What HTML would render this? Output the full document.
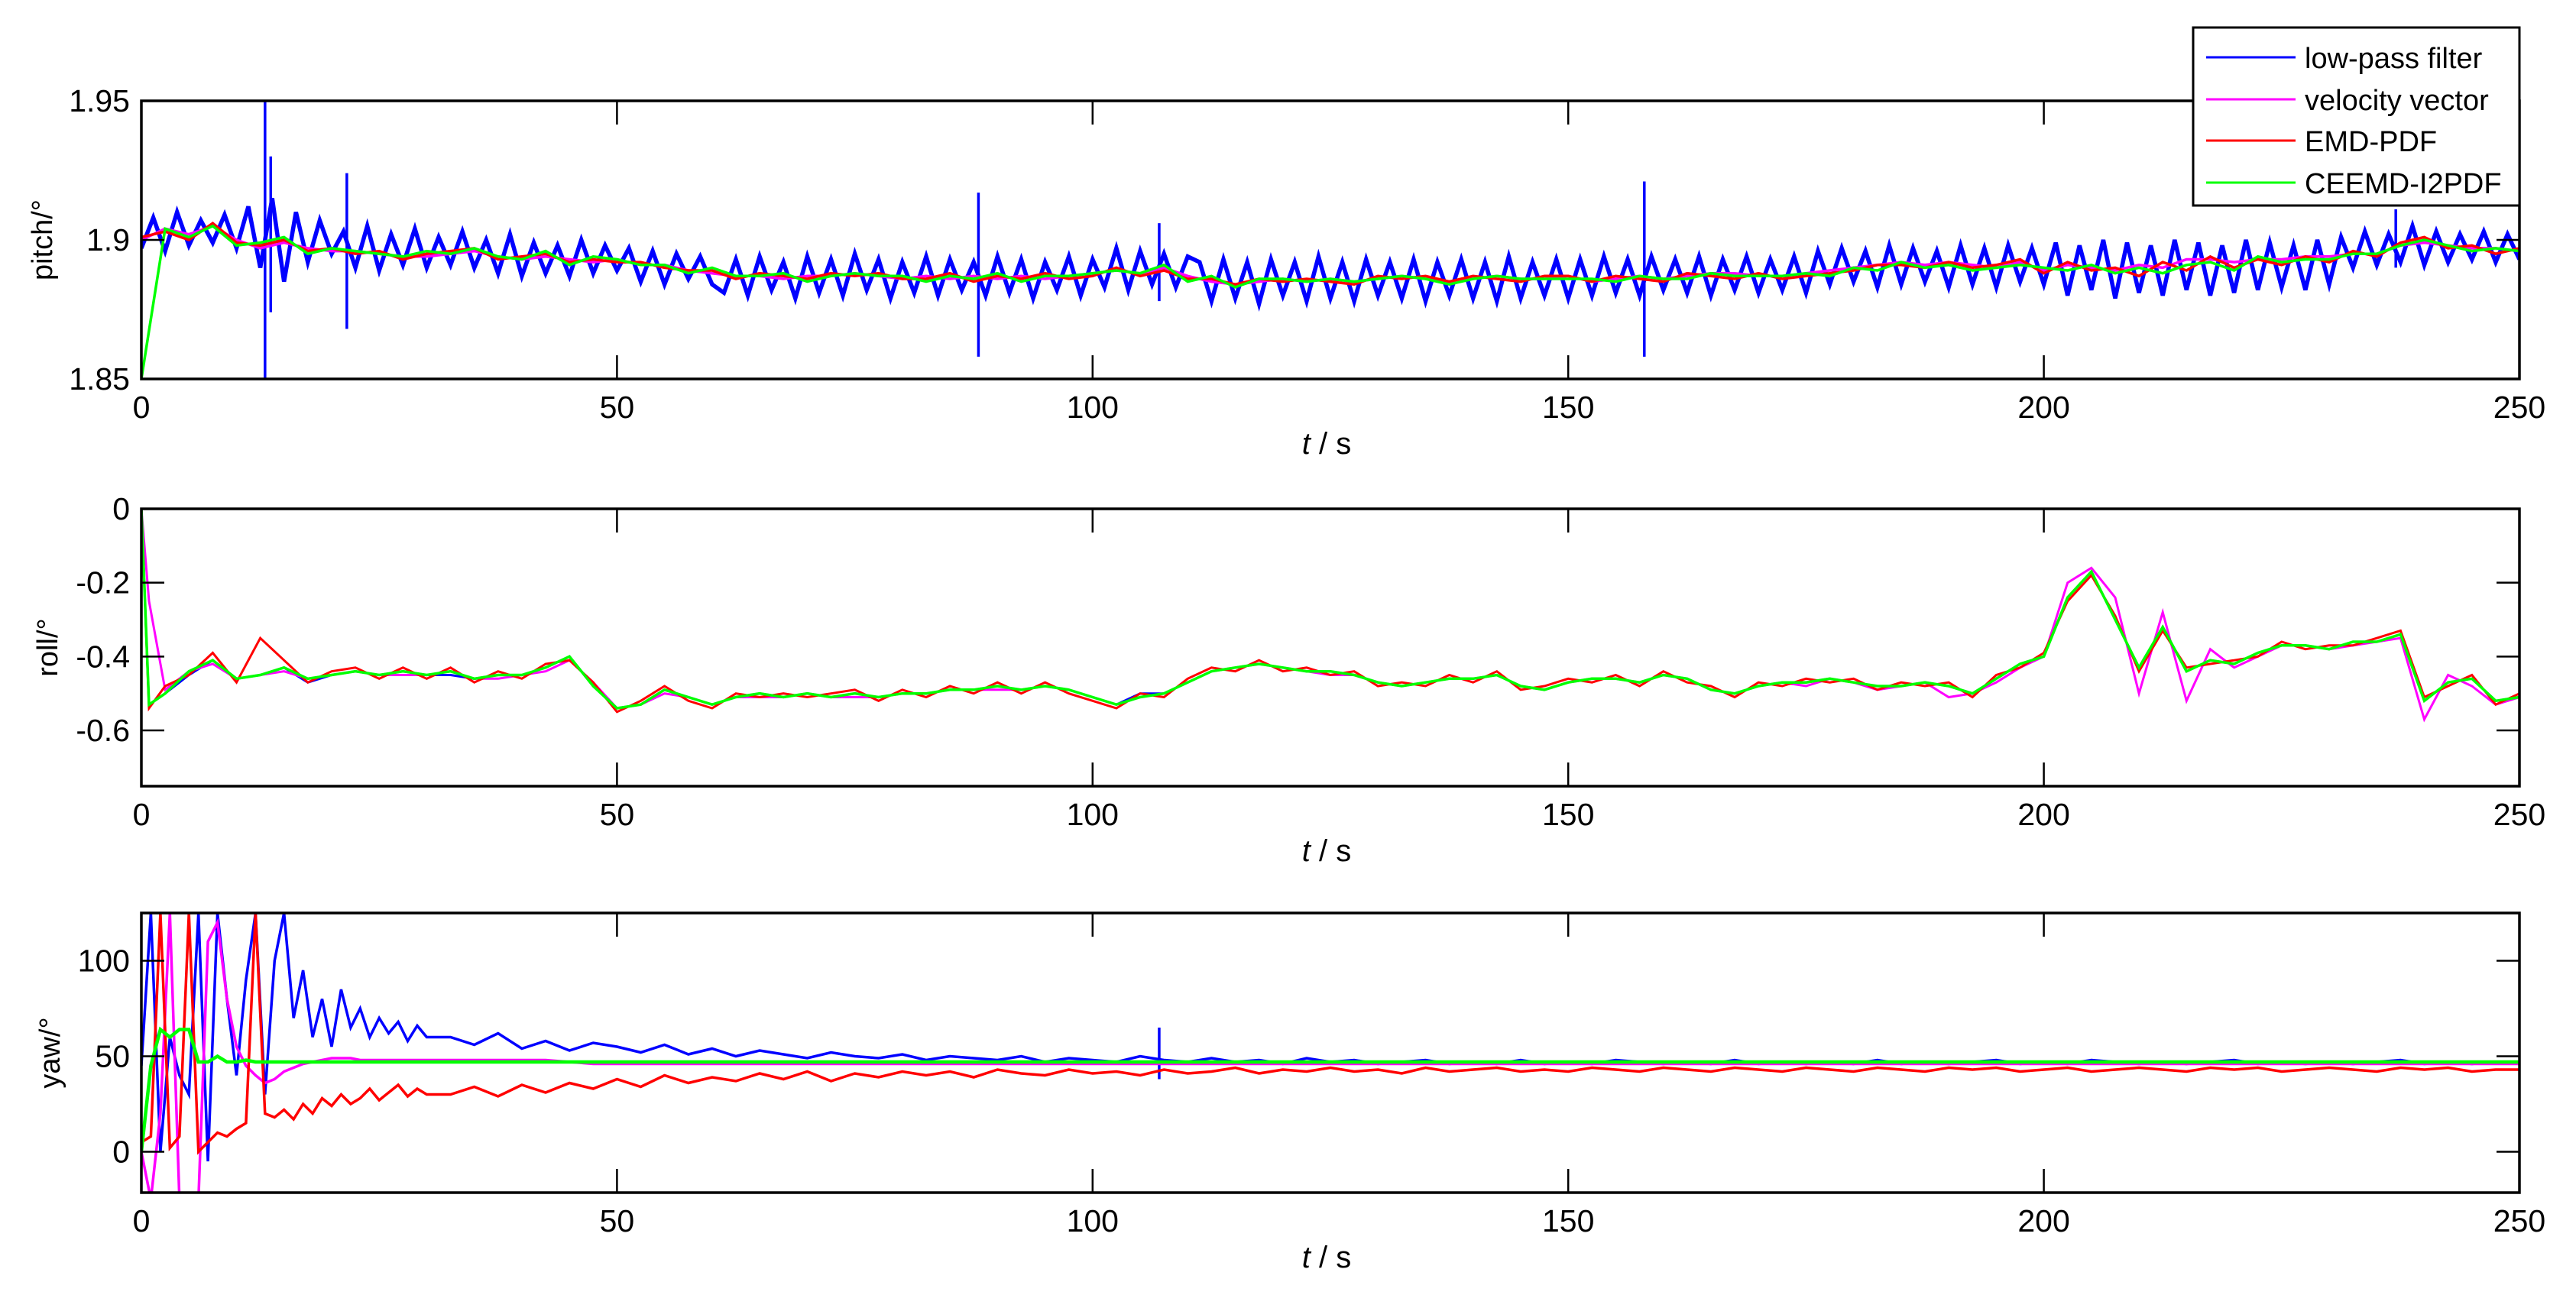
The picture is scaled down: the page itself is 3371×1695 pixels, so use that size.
<!DOCTYPE html>
<html><head><meta charset="utf-8">
<style>
html,body{margin:0;padding:0;background:#fff;}
svg{display:block;font-family:"Liberation Sans",Arial,sans-serif;}
</style></head>
<body>
<svg id="fig" width="3371" height="1695" viewBox="0 0 3371 1695" xmlns="http://www.w3.org/2000/svg">
<rect x="0" y="0" width="3371" height="1695" fill="#fff"/>
</svg>
<script>
// ---------------- data ----------------
const xTicks = [0, 50, 100, 150, 200, 250];
const pitchTicks = [1.85, 1.9, 1.95];
const pitchTickLabels = ["1.85", "1.9", "1.95"];
const rollTicks = [-0.6, -0.4, -0.2, 0];
const rollTickLabels = ["-0.6", "-0.4", "-0.2", "0"];
const yawTicks = [0, 50, 100];
const yawTickLabels = ["0", "50", "100"];
const seriesNames = ["low-pass filter", "velocity vector", "EMD-PDF", "CEEMD-I2PDF"];

// pitch (evenly spaced over 0..250 s)
const pitchBlue = [1.897,1.908,1.896,1.910,1.898,1.907,1.899,1.909,1.897,
1.912,1.890,1.915,1.885,1.910,1.892,1.907,1.895,
1.903,1.890,1.905,1.889,1.902,1.891,1.904,1.890,1.901,1.891,1.903,1.890,
1.900,1.888,1.902,1.887,1.899,1.888,1.898,1.887,1.900,1.888,1.898,1.889,
1.897,1.885,1.896,1.884,1.895,1.886,1.894,1.884,
1.881,1.893,1.880,1.894,1.882,1.892,1.879,1.894,1.881,1.893,1.880,1.895,1.882,1.893,1.879,1.892,1.881,1.894,1.880,1.893,1.882,1.892,1.880,1.894,1.881,1.893,1.879,1.892,1.882,1.894,1.880,1.893,
1.883,1.897,1.882,1.896,1.884,1.895,1.883,1.894,
1.892,1.878,1.893,1.879,1.892,1.877,1.893,1.880,1.892,1.878,1.894,1.879,1.892,1.878,1.893,1.880,1.892,1.879,1.893,1.878,1.892,1.880,1.893,1.879,1.892,1.878,1.894,1.879,1.892,1.880,1.893,1.879,
1.893,1.880,1.894,1.881,1.893,1.880,1.894,1.882,1.893,1.881,1.894,1.880,1.893,1.882,1.894,1.881,1.893,1.882,1.894,1.881,
1.896,1.884,1.897,1.885,1.896,1.883,1.898,1.884,1.897,1.885,1.896,1.883,1.898,1.884,1.897,1.883,1.898,1.885,1.897,1.884,
1.899,1.880,1.898,1.882,1.900,1.879,1.899,1.881,1.898,1.880,1.900,1.882,1.899,1.880,1.898,1.881,1.900,1.882,1.899,1.883,1.898,1.882,1.900,1.884,
1.901,1.890,1.903,1.891,1.902,1.892,1.905,1.891,1.903,1.892,1.902,1.893,1.903,1.892,1.902,1.893];
const pitchSpikeT = [13.0, 13.6, 21.6, 88.0, 107.0, 158.0, 237.0];
const pitchSpikeHi = [1.950, 1.930, 1.924, 1.917, 1.906, 1.921, 1.911];
const pitchSpikeLo = [1.850, 1.874, 1.868, 1.858, 1.878, 1.858, 1.890];
const pitchMagenta = [1.900,1.904,1.902,1.905,1.900,1.897,1.899,1.897,1.896,1.896,
1.895,1.894,1.894,1.895,1.896,1.894,1.893,1.894,1.893,1.892,
1.893,1.891,1.891,1.889,1.888,1.887,1.887,1.886,1.887,1.887,
1.888,1.887,1.886,1.887,1.886,1.887,1.886,1.887,1.886,1.887,
1.888,1.889,1.888,1.890,1.887,1.885,1.884,1.885,1.886,1.885,
1.886,1.885,1.886,1.887,1.886,1.885,1.886,1.887,1.886,1.886,
1.887,1.885,1.886,1.887,1.886,1.887,1.888,1.888,1.887,1.887,
1.888,1.889,1.890,1.891,1.892,1.891,1.892,1.891,1.890,1.892,
1.889,1.891,1.890,1.889,1.891,1.890,1.893,1.893,1.892,1.893,
1.893,1.894,1.894,1.895,1.895,1.898,1.899,1.898,1.897,1.897,
1.896];
const pitchRed = [1.901,1.903,1.900,1.906,1.899,1.898,1.900,1.896,1.897,1.895,
1.896,1.893,1.895,1.896,1.897,1.893,1.894,1.895,1.892,1.893,
1.892,1.892,1.890,1.889,1.889,1.886,1.888,1.887,1.886,1.888,
1.887,1.888,1.886,1.886,1.888,1.885,1.887,1.886,1.888,1.886,
1.887,1.890,1.887,1.889,1.886,1.886,1.884,1.886,1.885,1.886,
1.885,1.884,1.887,1.886,1.887,1.885,1.887,1.886,1.885,1.887,
1.887,1.885,1.887,1.886,1.885,1.888,1.887,1.886,1.888,1.886,
1.887,1.888,1.889,1.891,1.891,1.890,1.892,1.890,1.891,1.893,
1.888,1.892,1.889,1.890,1.887,1.892,1.889,1.894,1.890,1.893,
1.891,1.894,1.892,1.896,1.894,1.899,1.901,1.897,1.898,1.895,
1.897];
const pitchGreen = [1.850,1.904,1.901,1.905,1.898,1.899,1.901,1.895,1.897,1.896,
1.895,1.894,1.896,1.895,1.897,1.894,1.893,1.896,1.891,1.894,
1.893,1.891,1.891,1.888,1.890,1.887,1.887,1.888,1.885,1.887,
1.888,1.887,1.887,1.885,1.887,1.886,1.888,1.885,1.887,1.887,
1.888,1.889,1.888,1.891,1.885,1.887,1.883,1.886,1.886,1.885,
1.886,1.885,1.886,1.887,1.886,1.884,1.886,1.887,1.886,1.886,
1.886,1.886,1.885,1.887,1.886,1.886,1.888,1.887,1.887,1.887,
1.888,1.887,1.890,1.889,1.892,1.890,1.891,1.889,1.890,1.891,
1.890,1.889,1.891,1.888,1.890,1.888,1.891,1.892,1.889,1.894,
1.892,1.893,1.893,1.895,1.895,1.898,1.900,1.898,1.896,1.897,
1.896];

// roll (t = 0, 0.8, then 2.5 .. 250 step 2.5)
const rollBlue = [0,-0.53,
-0.50,-0.45,-0.41,-0.46,-0.45,-0.43,-0.47,-0.45,-0.44,-0.45,
-0.44,-0.45,-0.45,-0.46,-0.45,-0.45,-0.43,-0.40,-0.48,-0.54,
-0.53,-0.49,-0.51,-0.53,-0.51,-0.50,-0.51,-0.50,-0.51,-0.50,
-0.51,-0.50,-0.50,-0.49,-0.49,-0.48,-0.49,-0.48,-0.49,-0.51,
-0.53,-0.50,-0.50,-0.47,-0.44,-0.43,-0.42,-0.43,-0.44,-0.44,
-0.45,-0.47,-0.48,-0.47,-0.46,-0.46,-0.45,-0.48,-0.49,-0.47,
-0.46,-0.46,-0.47,-0.45,-0.46,-0.49,-0.50,-0.48,-0.47,-0.47,
-0.46,-0.47,-0.48,-0.48,-0.47,-0.48,-0.50,-0.46,-0.42,-0.40,
-0.24,-0.17,-0.30,-0.43,-0.32,-0.44,-0.41,-0.42,-0.39,-0.37,
-0.37,-0.38,-0.36,-0.36,-0.34,-0.52,-0.47,-0.46,-0.52,-0.51];
const rollMagenta = [0,-0.25,
-0.49,-0.44,-0.42,-0.46,-0.45,-0.44,-0.46,-0.45,-0.44,-0.45,
-0.45,-0.45,-0.44,-0.46,-0.46,-0.45,-0.44,-0.41,-0.47,-0.54,
-0.53,-0.50,-0.51,-0.53,-0.51,-0.51,-0.51,-0.50,-0.51,-0.51,
-0.51,-0.50,-0.50,-0.49,-0.49,-0.49,-0.49,-0.48,-0.49,-0.51,
-0.53,-0.51,-0.50,-0.47,-0.44,-0.43,-0.42,-0.43,-0.44,-0.45,
-0.45,-0.47,-0.48,-0.47,-0.46,-0.46,-0.45,-0.48,-0.49,-0.47,
-0.46,-0.46,-0.47,-0.45,-0.46,-0.49,-0.50,-0.48,-0.47,-0.48,
-0.46,-0.47,-0.49,-0.48,-0.47,-0.51,-0.50,-0.47,-0.43,-0.40,
-0.20,-0.16,-0.24,-0.50,-0.28,-0.52,-0.38,-0.43,-0.40,-0.37,
-0.37,-0.38,-0.37,-0.36,-0.35,-0.57,-0.45,-0.48,-0.53,-0.51];
const rollRed = [0,-0.54,
-0.48,-0.45,-0.39,-0.47,-0.35,-0.41,-0.47,-0.44,-0.43,-0.46,
-0.43,-0.46,-0.43,-0.47,-0.44,-0.46,-0.42,-0.41,-0.47,-0.55,
-0.52,-0.48,-0.52,-0.54,-0.50,-0.51,-0.50,-0.51,-0.50,-0.49,
-0.52,-0.49,-0.51,-0.48,-0.50,-0.47,-0.50,-0.47,-0.50,-0.52,
-0.54,-0.50,-0.51,-0.46,-0.43,-0.44,-0.41,-0.44,-0.43,-0.45,
-0.44,-0.48,-0.47,-0.48,-0.45,-0.47,-0.44,-0.49,-0.48,-0.46,
-0.47,-0.45,-0.48,-0.44,-0.47,-0.48,-0.51,-0.47,-0.48,-0.46,
-0.47,-0.46,-0.49,-0.47,-0.48,-0.47,-0.51,-0.45,-0.43,-0.39,
-0.25,-0.18,-0.29,-0.44,-0.33,-0.43,-0.42,-0.41,-0.40,-0.36,
-0.38,-0.37,-0.37,-0.35,-0.33,-0.51,-0.48,-0.45,-0.53,-0.50];
const rollGreen = [0,-0.53,
-0.50,-0.44,-0.41,-0.46,-0.45,-0.43,-0.46,-0.45,-0.44,-0.45,
-0.44,-0.45,-0.44,-0.46,-0.45,-0.45,-0.43,-0.40,-0.48,-0.54,
-0.53,-0.49,-0.51,-0.53,-0.51,-0.50,-0.51,-0.50,-0.51,-0.50,
-0.51,-0.50,-0.50,-0.49,-0.49,-0.48,-0.49,-0.48,-0.49,-0.51,
-0.53,-0.51,-0.50,-0.47,-0.44,-0.43,-0.42,-0.43,-0.44,-0.44,
-0.45,-0.47,-0.48,-0.47,-0.46,-0.46,-0.45,-0.48,-0.49,-0.47,
-0.46,-0.46,-0.47,-0.45,-0.46,-0.49,-0.50,-0.48,-0.47,-0.47,
-0.46,-0.47,-0.48,-0.48,-0.47,-0.48,-0.50,-0.46,-0.42,-0.40,
-0.24,-0.17,-0.30,-0.43,-0.32,-0.44,-0.41,-0.42,-0.39,-0.37,
-0.37,-0.38,-0.36,-0.36,-0.34,-0.52,-0.47,-0.46,-0.52,-0.51];

// yaw (t = 0..30 step 1, then 32.5..250 step 2.5)
const yawBlue = [45,125,0,60,40,30,125,-5,125,80,40,90,125,30,100,125,70,95,60,80,55,85,65,75,60,70,62,68,58,66,60,
60,56,62,54,58,53,57,55,52,56,
51,54,50,53,51,49,52,50,49,51,
48,50,49,48,50,47,49,48,47,50,
48,47,49,47,48,46,49,47,48,46,
47,48,46,47,46,48,46,47,46,48,
47,46,47,46,48,46,47,46,47,46,
48,46,47,46,47,48,46,47,46,48,
47,46,47,46,47,48,46,47,46,47,
46,47,48,46,47,46,47,46];
const yawSpikeT = [107];
const yawSpikeHi = [65];
const yawSpikeLo = [38];
const yawMagenta = [0,-25,20,125,-25,-25,-25,110,120,80,55,45,40,36,38,42,44,46,47,48,49,49,49,48,48,48,48,48,48,48,48,
48,48,48,48,48,47,46,46,46,46,
46,46,46,46,46,46,46,46,46,46,
46,46,46,46,46,46,46,46,46,46,
46,46,46,46,46,46,46,46,46,46,
46,46,46,46,46,46,46,46,46,46,
46,46,46,46,46,46,46,46,46,46,
46,46,46,46,46,46,46,46,46,46,
46,46,46,46,46,46,46,46,46,46,
46,46,46,46,46,46,46,46];
const yawRed = [5,8,125,2,8,125,0,5,10,8,12,15,125,20,18,22,17,25,20,28,24,30,25,28,33,27,31,35,29,33,30,
30,34,29,35,31,36,33,38,34,40,
36,39,37,41,38,42,37,41,39,42,
40,42,39,43,41,40,43,41,42,40,
43,41,42,44,41,43,42,44,42,43,
41,44,42,43,44,42,43,42,44,43,
42,44,43,42,44,43,42,44,43,42,
44,43,42,44,43,44,42,43,44,42,
43,44,43,42,44,43,44,42,43,44,
43,42,44,43,44,42,43,43];
const yawGreen = [0,45,64,60,64,64,47,47,50,47,47,48,47,47,47,47,47,47,47,47,47,47,47,47,47,47,47,47,47,47,47,
47,47,47,47,47,47,47,47,47,47,
47,47,47,47,47,47,47,47,47,47,
47,47,47,47,47,47,47,47,47,47,
47,47,47,47,47,47,47,47,47,47,
47,47,47,47,47,47,47,47,47,47,
47,47,47,47,47,47,47,47,47,47,
47,47,47,47,47,47,47,47,47,47,
47,47,47,47,47,47,47,47,47,47,
47,47,47,47,47,47,47,47];

// ---------------- drawing ----------------
const NS = "http://www.w3.org/2000/svg";
const svg = document.getElementById("fig");
const X0 = 185, X1 = 3297;
const COLORS = ["#0000ff", "#ff00ff", "#ff0000", "#00ff00"];
function el(tag, attrs, parent) {
  const e = document.createElementNS(NS, tag);
  for (const k in attrs) e.setAttribute(k, attrs[k]);
  (parent || svg).appendChild(e);
  return e;
}
function sx(t) { return X0 + (t / 250) * (X1 - X0); }
function evenT(n) { return i => i * 250 / (n - 1); }
function rollT(i) { return i === 0 ? 0 : (i === 1 ? 0.8 : (i - 1) * 2.5); }
function yawT(i) { return i <= 30 ? i : 30 + (i - 30) * 2.5; }

function panel(key, top, bot, ymin, ymax, ticks, tickLabels, ylabel, ylabelX, series, spikes) {
  const sy = v => bot - (v - ymin) / (ymax - ymin) * (bot - top);
  const g = el("g", {});
  
  
  const clipId = "clip-" + key;
  const cp = el("clipPath", { id: clipId }, g);
  el("rect", { x: X0, y: top, width: X1 - X0, height: bot - top }, cp);
  const data = el("g", { "clip-path": "url(#" + clipId + ")" }, g);
  
  
  series.forEach((s, k) => {
    let d = "";
    s.vals.forEach((v, i) => { d += (i ? "L" : "M") + sx(s.tf(i)).toFixed(1) + " " + sy(v).toFixed(1); });
    const p = el("path", { d: d, fill: "none", stroke: COLORS[s.c], "stroke-width": s.w || 3, "stroke-linejoin": "miter" }, data);
    
    
    if (spikes && s.c === 0) {
      spikes.t.forEach((t, i) => {
        const ln = el("line", { x1: sx(t), x2: sx(t), y1: sy(spikes.hi[i]), y2: sy(spikes.lo[i]), stroke: COLORS[0], "stroke-width": 3.5 }, data);
        
        
      });
    }
  });
  const fr = el("rect", { x: X0, y: top, width: X1 - X0, height: bot - top, fill: "none", stroke: "#000", "stroke-width": 3.5 }, g);
  
  
  xTicks.forEach(t => {
    const x = sx(t);
    el("line", { x1: x, x2: x, y1: bot, y2: bot - 31, stroke: "#000", "stroke-width": 2.5 }, g);
    el("line", { x1: x, x2: x, y1: top, y2: top + 31, stroke: "#000", "stroke-width": 2.5 }, g);
    const tx = el("text", { x: x, y: bot + 51, "font-size": 41, "text-anchor": "middle", fill: "#000" }, g);
    tx.textContent = String(t);
    
    
  });
  ticks.forEach((v, i) => {
    const y = sy(v);
    el("line", { x1: X0, x2: X0 + 30, y1: y, y2: y, stroke: "#000", "stroke-width": 2.5 }, g);
    el("line", { x1: X1, x2: X1 - 30, y1: y, y2: y, stroke: "#000", "stroke-width": 2.5 }, g);
    const tx = el("text", { x: 170, y: y + 14, "font-size": 41, "text-anchor": "end", fill: "#000" }, g);
    tx.textContent = tickLabels[i];
    
    
  });
  const xt = el("text", { x: 1736, y: bot + 98, "font-size": 40, "text-anchor": "middle", fill: "#000" }, g);
  xt.innerHTML = '<tspan font-style="italic">t</tspan> / s';
  
  
  const cy = (top + bot) / 2;
  const yt = el("text", { x: ylabelX, y: cy, "font-size": 38, "text-anchor": "middle", fill: "#000", transform: "rotate(-90 " + ylabelX + " " + cy + ")" }, g);
  yt.textContent = ylabel;
  
  
}

panel("pitch", 132, 496, 1.85, 1.95, pitchTicks, pitchTickLabels, "pitch/°", 68, [
  { name: "low-pass-filter", c: 0, vals: pitchBlue, tf: evenT(pitchBlue.length), w: 5.5 },
  { name: "velocity-vector", c: 1, vals: pitchMagenta, tf: evenT(pitchMagenta.length), w: 3.5 },
  { name: "emd-pdf", c: 2, vals: pitchRed, tf: evenT(pitchRed.length), w: 3.5 },
  { name: "ceemd-i2pdf", c: 3, vals: pitchGreen, tf: evenT(pitchGreen.length), w: 3.5 }
], { t: pitchSpikeT, hi: pitchSpikeHi, lo: pitchSpikeLo });

panel("roll", 666, 1029, -0.751, 0, rollTicks, rollTickLabels, "roll/°", 75, [
  { name: "low-pass-filter", c: 0, vals: rollBlue, tf: rollT },
  { name: "velocity-vector", c: 1, vals: rollMagenta, tf: rollT },
  { name: "emd-pdf", c: 2, vals: rollRed, tf: rollT },
  { name: "ceemd-i2pdf", c: 3, vals: rollGreen, tf: rollT, w: 3.5 }
], null);

panel("yaw", 1195, 1561, -21.4, 125, yawTicks, yawTickLabels, "yaw/°", 78, [
  { name: "low-pass-filter", c: 0, vals: yawBlue, tf: yawT, w: 3.5 },
  { name: "velocity-vector", c: 1, vals: yawMagenta, tf: yawT, w: 3.5 },
  { name: "emd-pdf", c: 2, vals: yawRed, tf: yawT, w: 3.5 },
  { name: "ceemd-i2pdf", c: 3, vals: yawGreen, tf: yawT, w: 4.5 }
], { t: yawSpikeT, hi: yawSpikeHi, lo: yawSpikeLo });

const lg = el("g", {});


el("rect", { x: 2870, y: 36, width: 427, height: 233, fill: "#fff", stroke: "#000", "stroke-width": 3 }, lg);
const legYs = [75, 130, 184, 239];
seriesNames.forEach((n, i) => {
  const y = legYs[i];
  const ln = el("line", { x1: 2887, x2: 3004, y1: y, y2: y, stroke: COLORS[i], "stroke-width": 3 }, lg);
  
  
  const tx = el("text", { x: 3016, y: y + 14, "font-size": 38, fill: "#000" }, lg);
  tx.textContent = n;
  
  
});
</script>
</body></html>
